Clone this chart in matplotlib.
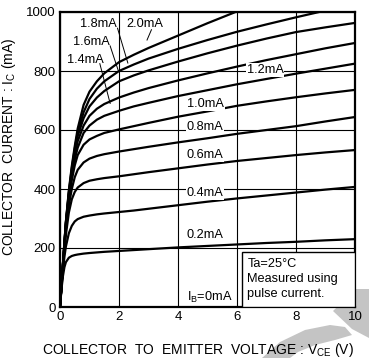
import numpy as np
import matplotlib.pyplot as plt
from matplotlib.patches import Polygon

plt.rcParams['font.family'] = ['Liberation Sans', 'DejaVu Sans']

# collector-emitter voltage (V) sample points
vce = [0, 0.05, 0.1, 0.15, 0.2, 0.3, 0.4, 0.5, 0.6, 0.8, 1.0, 1.25, 1.5,
       2, 2.5, 3, 4, 5, 6, 7, 8, 9, 10]

# collector current (mA) for each base current
ic = {
    '0.2mA': [0, 60, 105, 135, 152, 167, 173, 176, 178, 181, 183, 185, 187,
              190, 193, 196, 202, 207, 212, 217, 221, 226, 230],
    '0.4mA': [0, 65, 125, 170, 205, 250, 275, 290, 298, 306, 310, 314, 317,
              322, 327, 333, 345, 357, 368, 378, 388, 398, 407],
    '0.6mA': [0, 68, 135, 195, 245, 320, 365, 390, 405, 420, 428, 433, 437,
              443, 450, 457, 470, 483, 495, 505, 515, 524, 532],
    '0.8mA': [0, 70, 140, 205, 265, 345, 400, 440, 465, 490, 503, 512, 518,
              527, 535, 543, 558, 572, 587, 600, 613, 629, 644],
    '1.0mA': [0, 71, 142, 210, 275, 365, 430, 480, 515, 550, 568, 580, 590,
              602, 613, 624, 645, 663, 682, 697, 711, 724, 736],
    '1.2mA': [0, 72, 144, 213, 280, 375, 445, 500, 540, 590, 615, 635, 648,
              665, 680, 692, 715, 735, 755, 773, 791, 808, 825],
    '1.4mA': [0, 72, 145, 215, 283, 380, 455, 515, 562, 615, 648, 672, 688,
              710, 727, 742, 768, 792, 815, 837, 857, 877, 895],
    '1.6mA': [0, 73, 146, 217, 286, 385, 462, 527, 580, 640, 680, 710, 732,
              765, 785, 802, 832, 860, 886, 910, 932, 948, 963],
    '1.8mA': [0, 73, 147, 218, 288, 390, 470, 537, 592, 660, 705, 740, 765,
              800, 822, 842, 875, 905, 933, 958, 982, 1005, 1028],
    '2.0mA': [0, 74, 148, 220, 290, 395, 478, 545, 605, 685, 730, 765, 792,
              830, 855, 878, 920, 962, 1002, 1040, 1075, 1110, 1140],
}

x_ticks = [0, 2, 4, 6, 8, 10]
y_ticks = [0, 200, 400, 600, 800, 1000]

fig = plt.figure(figsize=(3.69, 3.58), dpi=100)

# light grey watermark in the bottom right corner (pixel coords)
W, H = 369, 358
wm1 = [(333, 311), (356, 289), (369, 289), (369, 338), (352, 329)]
wm2 = [(262, 358), (280, 342), (305, 330), (330, 325), (345, 327), (352, 335),
       (335, 340), (315, 345), (298, 352), (290, 358)]
for pts in (wm1, wm2):
    fig.patches.append(Polygon([(x / W, 1 - y / H) for x, y in pts],
                               closed=True, transform=fig.transFigure,
                               facecolor='#c4c4c4', edgecolor='none', zorder=-1))

ax = fig.add_axes([60 / W, 1 - 307 / H, 295 / W, 295 / H])
ax.set_xlim(0, 10)
ax.set_ylim(0, 1000)
ax.set_xticks(x_ticks)
ax.set_yticks(y_ticks)
ax.tick_params(length=0, labelsize=9.5, pad=3)
ax.grid(True, color='black', linewidth=0.8)
ax.set_axisbelow(True)
for s in ax.spines.values():
    s.set_linewidth(1.6)

for name, vals in ic.items():
    ax.plot(vce, vals, color='black', linewidth=1.6, solid_capstyle='butt',
            clip_on=True, zorder=2)

fs = 9.2
white = dict(facecolor='white', edgecolor='none', pad=0.6)
for lab, y in [('1.0mA', 688), ('0.8mA', 610), ('0.6mA', 515),
               ('0.4mA', 386), ('0.2mA', 244)]:
    ax.text(4.3, y, lab, fontsize=fs, ha='left', va='center', bbox=white, zorder=3)
ax.text(6.95, 803, '1.2mA', fontsize=fs, ha='center', va='center', bbox=white, zorder=3)
ax.text(5.85, 31, r'I$_\mathregular{B}$=0mA', fontsize=fs, ha='right',
        va='center', zorder=3)

# upper left labels with leader lines
ax.text(1.29, 959, '1.8mA', fontsize=fs, ha='center', va='center', zorder=3)
ax.text(2.88, 959, '2.0mA', fontsize=fs, ha='center', va='center', zorder=3)
ax.text(1.08, 898, '1.6mA', fontsize=fs, ha='center', va='center', zorder=3)
ax.text(0.85, 837, '1.4mA', fontsize=fs, ha='center', va='center', zorder=3)
ax.plot([1.95, 2.3], [945, 827], color='black', linewidth=0.7, zorder=3)
ax.plot([3.1, 2.95], [940, 905], color='black', linewidth=0.7, zorder=3)
ax.plot([1.7, 1.97], [885, 803], color='black', linewidth=0.7, zorder=3)
ax.plot([1.35, 1.7], [825, 690], color='black', linewidth=0.7, zorder=3)

# conditions box
ax.add_patch(plt.Rectangle((6.17, 0), 3.83, 186, facecolor='white',
                           edgecolor='black', linewidth=1.0, zorder=3))
ax.text(6.35, 95, 'Ta=25°C\nMeasured using\npulse current.', fontsize=fs,
        ha='left', va='center', linespacing=1.3, zorder=4)

ax.set_xlabel(r'COLLECTOR  TO  EMITTER  VOLTAGE : V$_\mathregular{CE}$ (V)',
              fontsize=10, ha='left')
ax.xaxis.set_label_coords(-18 / 295, -0.115)
ax.set_ylabel(r'COLLECTOR  CURRENT : I$_\mathregular{C}$ (mA)', fontsize=10)
ax.yaxis.set_label_coords(-42 / 295, 0.542)

fig.savefig('out.png', dpi=100)
